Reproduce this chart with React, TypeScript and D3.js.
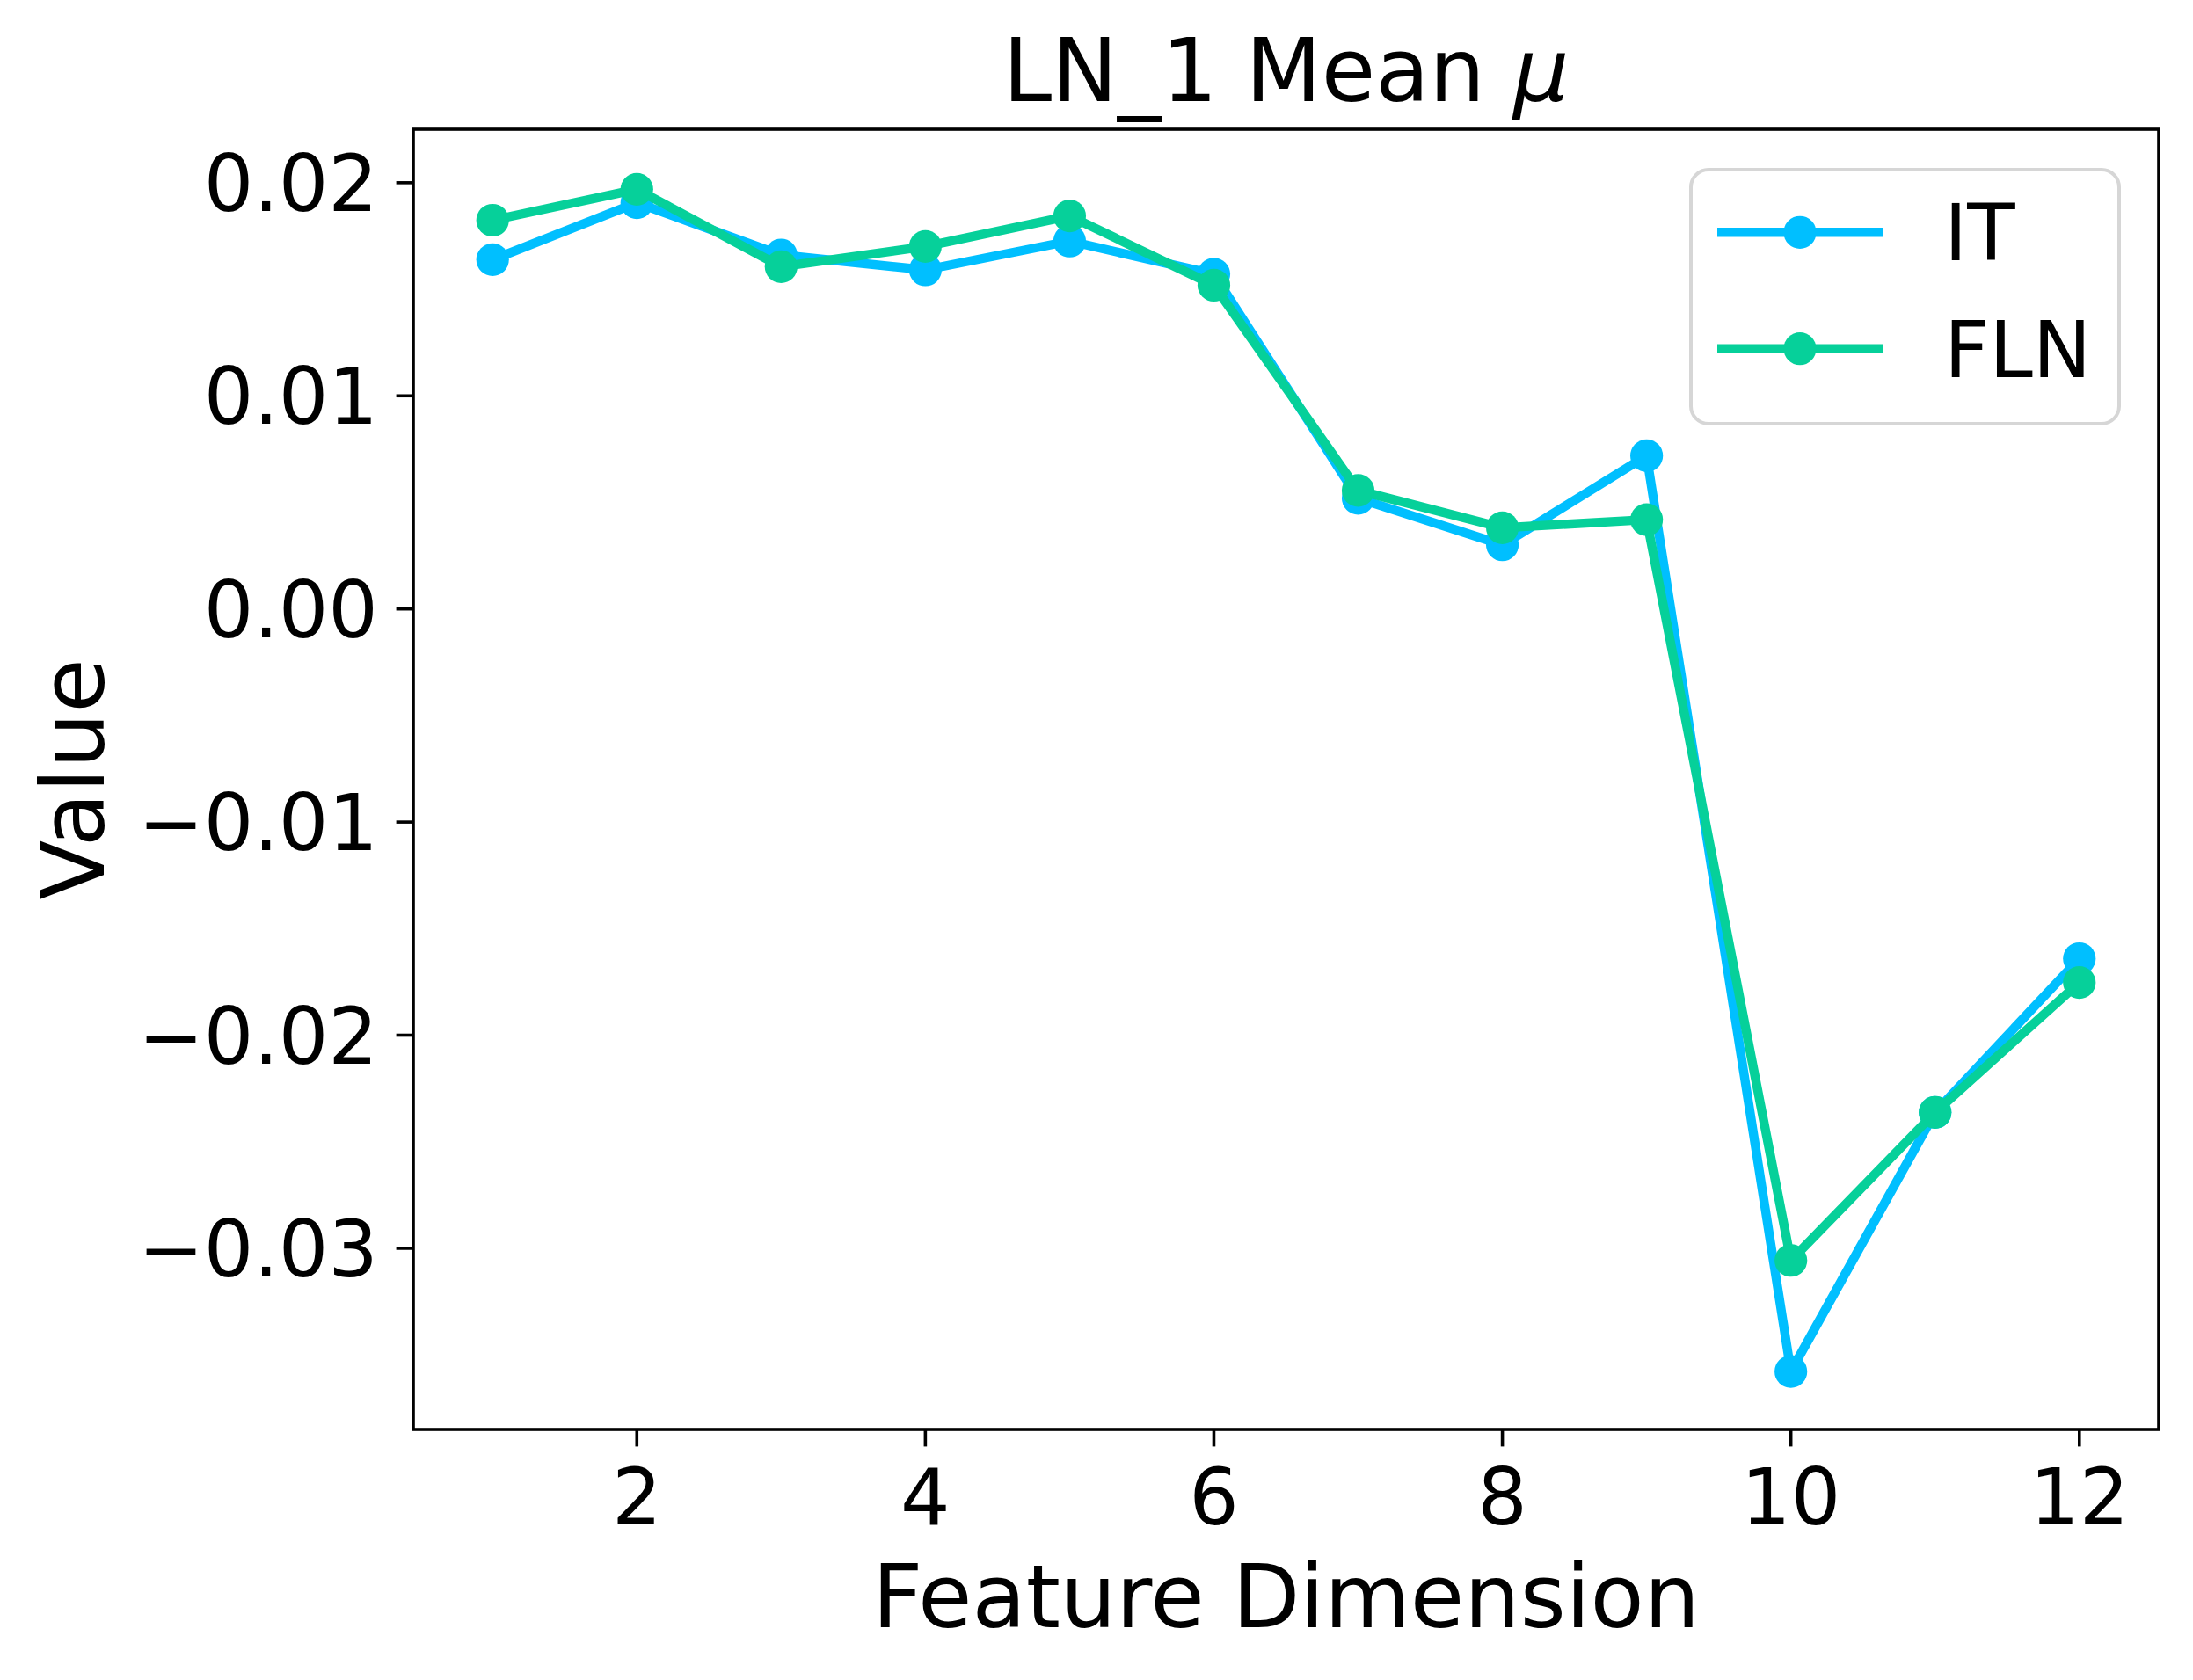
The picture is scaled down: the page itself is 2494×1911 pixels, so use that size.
import * as d3 from "d3";

const dims = [1, 2, 3, 4, 5, 6, 7, 8, 9, 10, 11, 12];
const itValues = [0.01639, 0.01906, 0.01661, 0.01591, 0.01726, 0.01571, 0.00519, 0.00301, 0.00719, -0.03578, -0.02362, -0.01641];
const flnValues = [0.01824, 0.01969, 0.01606, 0.01701, 0.01844, 0.01519, 0.00556, 0.00381, 0.00419, -0.03057, -0.02362, -0.01753];
const xTicks = [2, 4, 6, 8, 10, 12];
const yTicks = [0.02, 0.01, 0.0, -0.01, -0.02, -0.03];

const seriesList = [
  { name: "IT", values: itValues, color: "#00BFFF" },
  { name: "FLN", values: flnValues, color: "#06D09A" },
];

const width = 2494;
const height = 1911;
const margin = { top: 147, right: 39, bottom: 285, left: 470 };
const font = "'DejaVu Sans', sans-serif";

function fmtY(v: number) {
  const s = Math.abs(v).toFixed(2);
  return v < -1e-9 ? "\u2212" + s : s;
}

export default function App() {
  const x = d3.scaleLinear().domain([0.45, 12.55]).range([margin.left, width - margin.right]);
  const y = d3.scaleLinear().domain([-0.0385, 0.02251]).range([height - margin.bottom, margin.top]);

  const line = d3
    .line<number>()
    .x((_, i) => x(dims[i]))
    .y((d) => y(d));

  const x0 = margin.left;
  const x1 = width - margin.right;
  const y0 = margin.top;
  const y1 = height - margin.bottom;
  const cx = (x0 + x1) / 2;

  return (
    <svg
      width={width}
      height={height}
      viewBox={`0 0 ${width} ${height}`}
      style={{ position: "absolute", left: 0, top: 0, background: "#fff" }}
      fontFamily={font}
    >
      <rect x={0} y={0} width={width} height={height} fill="#fff" />

      {/* series */}
      {seriesList.map((s) => (
        <g key={s.name}>
          <path d={line(s.values) ?? ""} fill="none" stroke={s.color} strokeWidth={10.4} strokeLinejoin="round" />
          {s.values.map((v, i) => (
            <circle key={i} cx={x(dims[i])} cy={y(v)} r={18.6} fill={s.color} />
          ))}
        </g>
      ))}

      {/* frame */}
      <rect x={x0} y={y0} width={x1 - x0} height={y1 - y0} fill="none" stroke="#000" strokeWidth={3.6} />

      {/* y axis */}
      {yTicks.map((t) => (
        <g key={t}>
          <line x1={x0} x2={x0 - 19.4} y1={y(t)} y2={y(t)} stroke="#000" strokeWidth={3.6} />
          <text x={x0 - 40} y={y(t)} dy="0.36em" textAnchor="end" fontSize={89}>
            {fmtY(t)}
          </text>
        </g>
      ))}

      {/* x axis */}
      {xTicks.map((t) => (
        <g key={t}>
          <line x1={x(t)} x2={x(t)} y1={y1} y2={y1 + 19.4} stroke="#000" strokeWidth={3.6} />
          <text x={x(t)} y={1734} textAnchor="middle" fontSize={89}>
            {t}
          </text>
        </g>
      ))}

      {/* labels */}
      <text x={cx} y={115} textAnchor="middle" fontSize={100}>
        LN_1 Mean <tspan fontStyle="italic">μ</tspan>
      </text>
      <text x={cx} y={1851} textAnchor="middle" fontSize={100}>
        Feature Dimension
      </text>
      <text transform={`translate(118, ${(y0 + y1) / 2}) rotate(-90)`} textAnchor="middle" fontSize={100}>
        Value
      </text>

      {/* legend */}
      <g>
        <rect x={1923} y={193} width={487} height={289} rx={20} fill="#fff" fillOpacity={0.8} stroke="#d6d6d6" strokeWidth={4} />
        {seriesList.map((s, i) => {
          const ly = 264.3 + i * 132.4;
          return (
            <g key={s.name}>
              <line x1={1953} x2={2142} y1={ly} y2={ly} stroke={s.color} strokeWidth={10.4} />
              <circle cx={2047} cy={ly} r={18.6} fill={s.color} />
              <text x={2211} y={ly} dy="0.36em" fontSize={89}>
                {s.name}
              </text>
            </g>
          );
        })}
      </g>
    </svg>
  );
}
